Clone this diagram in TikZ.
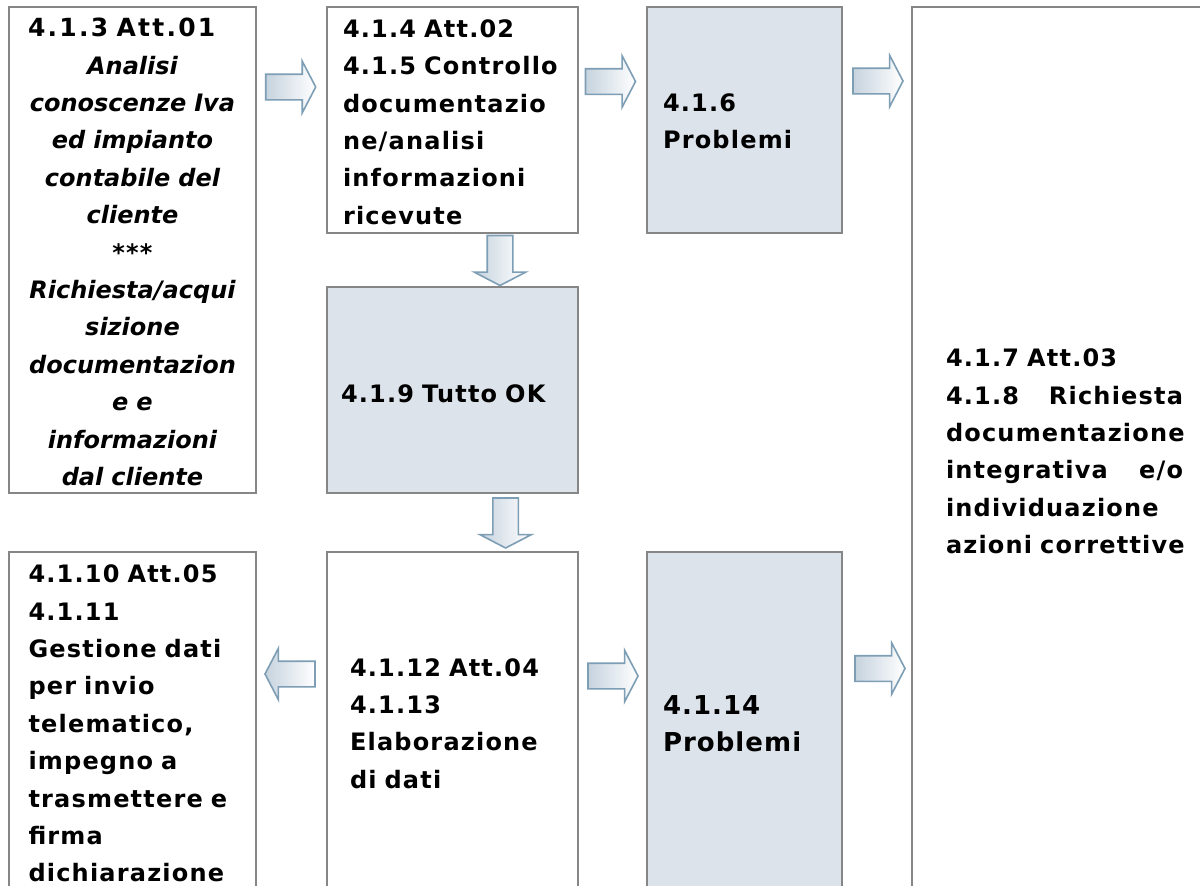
\documentclass[tikz,border=0pt]{standalone}
\usepackage{fontspec}
\setmainfont{DejaVu Sans}
\newfontfamily\fstd[LetterSpace=5]{DejaVu Sans}
\newfontfamily\fita[LetterSpace=0]{DejaVu Sans}
\newfontfamily\ftitle[LetterSpace=9]{DejaVu Sans}
\newfontfamily\fbig[LetterSpace=4]{DejaVu Sans}
\usetikzlibrary{shapes.arrows}
\definecolor{boxline}{HTML}{868686}
\definecolor{boxfill}{HTML}{DCE3EA}
\definecolor{arrline}{HTML}{7D9EB5}
\definecolor{arrfill}{HTML}{C6D3DE}
\begin{document}
\begin{tikzpicture}[x=0.5pt,y=-0.5pt,
  box/.style={draw=boxline, line width=1.2pt, inner sep=0pt, outer sep=0pt, anchor=north west},
  shadedbox/.style={box, fill=boxfill},
  barrowbase/.style={single arrow, draw=arrline, line width=0.8pt, left color=arrfill, right color=white,
    minimum height=25pt, single arrow head extend=6.5pt,
    single arrow tip angle=125, outer sep=0pt, anchor=tail},
  barrow/.style={barrowbase, inner xsep=0pt, inner ysep=6pt},
  varrow/.style={barrowbase, inner xsep=6pt, inner ysep=0pt, shape border rotate=270},
  txt/.style={anchor=base west, inner sep=0pt, outer sep=0pt, align=left, text width=#1},
  stdfont/.style={font=\fstd\bfseries\fontsize{12}{18.7}\selectfont}
]
\useasboundingbox (0,0) rectangle (1200,885);
\fill[white] (0,0) rectangle (1200,885);
\clip (0,0) rectangle (1200,885);

% boxes
\node[box, minimum width=123.5pt, minimum height=243pt] (A) at (9,7) {};
\node[box, minimum width=125.5pt, minimum height=113pt] (B) at (327,7) {};
\node[shadedbox, minimum width=97.5pt, minimum height=113pt] (C) at (647,7) {};
\node[box, minimum width=151.5pt, minimum height=446.5pt] (D) at (912,7) {};
\node[shadedbox, minimum width=125.5pt, minimum height=103pt] (E) at (327,287) {};
\node[box, minimum width=125.5pt, minimum height=174pt] (F) at (327,552) {};
\node[box, minimum width=123.5pt, minimum height=174pt] (G) at (9,552) {};
\node[shadedbox, minimum width=97.5pt, minimum height=174pt] (H) at (647,552) {};

% block arrows (placed by their tails)
\node[barrow] (ab) at (265.7,87) {};
\node[barrow] (bc) at (585.5,81.5) {};
\node[barrow] (cd) at (853,81) {};
\node[varrow] (be) at (500,235.5) {};
\node[varrow] (ef) at (505.6,498) {};
\node[barrow, shape border rotate=180] (fg) at (315,674) {};
\node[barrow] (fh) at (588,676) {};
\node[barrow] (hd) at (855,668.5) {};

% texts
\node[txt=115pt, font=\ftitle\bfseries\fontsize{12.5}{18.7}\selectfont] (ta) at (28,36.7) {4.1.3 Att.01};
\node[txt=112pt, anchor=base, align=center, font=\fita\bfseries\itshape\fontsize{12}{18.7}\selectfont] (tai) at (132.5,74.1)
  {Analisi\\conoscenze Iva\\ed impianto\\contabile del\\cliente\\{\fstd\upshape ***}\\Richiesta/acqui\\sizione\\documentazion\\e e\\informazioni\\dal cliente};
\node[txt=118pt, stdfont] (tb) at (343,37.3)
  {4.1.4 Att.02\\4.1.5 Controllo\\documentazio\\ne/analisi\\informazioni\\ricevute};
\node[txt=90pt, stdfont] (tc) at (663,111.5) {4.1.6\\Problemi};
\node[txt=118.5pt, stdfont] (td) at (946,366.7)
  {4.1.7 Att.03\\\makebox[\linewidth]{4.1.8\hfill Richiesta}\\documentazione\\\makebox[\linewidth]{integrativa\hfill e/o}\\individuazione\\azioni correttive};
\node[txt=118pt, stdfont] (te) at (341,402.3) {4.1.9 Tutto OK};
\node[txt=118pt, stdfont] (tf) at (350,676) {4.1.12 Att.04\\4.1.13\\Elaborazione\\di dati};
\node[txt=118pt, stdfont] (tg) at (28.5,582.7)
  {4.1.10 Att.05\\4.1.11\\Gestione dati\\per invio\\telematico,\\impegno a\\trasmettere e\\firma\\dichiarazione};
\node[txt=90pt, font=\fbig\bfseries\fontsize{13}{18.7}\selectfont] (th) at (663,714) {4.1.14\\Problemi};
\end{tikzpicture}
\end{document}
